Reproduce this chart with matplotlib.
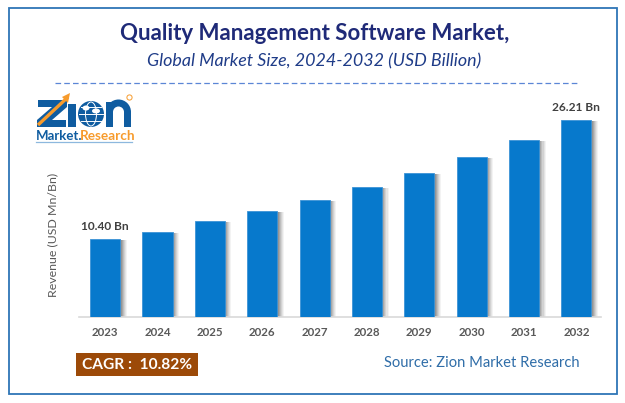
import matplotlib
matplotlib.use("Agg")
import matplotlib.pyplot as plt
from matplotlib.patches import Rectangle, Circle, Ellipse, Polygon, Wedge

years = ["2023","2024","2025","2026","2027","2028","2029","2030","2031","2032"]
values = [10.40,11.35,12.75,14.1,15.6,17.3,19.15,21.3,23.5,26.21]
first_label = "10.40 Bn"
last_label = "26.21 Bn"

W,H = 625,403
plt.rcParams['font.family'] = ['Lato','DejaVu Sans']
fig = plt.figure(figsize=(W/100,H/100),dpi=100,facecolor='white')

# page overlay in pixel coordinates
pg = fig.add_axes([0,0,1,1],zorder=5)
pg.set_xlim(0,W); pg.set_ylim(H,0); pg.axis('off'); pg.patch.set_alpha(0)

# chart axes
x0,x1,ytop,ybase = 79,601,100,317
ax = fig.add_axes([x0/W,1-ybase/H,(x1-x0)/W,(ybase-ytop)/H],zorder=2)
ax.set_xlim(-0.5,9.47)
ax.set_ylim(0,(ybase-ytop)/7.52)
xs = list(range(len(values)))
bw = 0.575
# soft shadow: stacked translucent bars
for off,a in [(0.125,0.08),(0.105,0.10),(0.085,0.14),(0.065,0.18),(0.045,0.24),(0.025,0.28)]:
    ax.bar([i+off for i in xs],[v-0.15 for v in values],width=bw,color='#666666',alpha=a,linewidth=0,zorder=1)
ax.bar(xs,values,width=bw,color='#0779CC',edgecolor='#3C93D6',linewidth=0.6,zorder=3)
for s in ['top','right','left']:
    ax.spines[s].set_visible(False)
ax.spines['bottom'].set_color('#D9D9D9')
ax.spines['bottom'].set_linewidth(1.2)
ax.set_yticks([])
ax.set_xticks(xs)
ax.set_xticklabels(years,fontsize=8.3,fontweight='bold',color='#595959')
ax.tick_params(axis='x',length=0,pad=7.5)
ax.text(0,values[0]+0.95,first_label,ha='center',va='bottom',fontsize=8.6,fontweight='bold',color='#404040')
ax.text(9,values[9]+0.95,last_label,ha='center',va='bottom',fontsize=8.6,fontweight='bold',color='#404040')

# frame
pg.add_patch(Rectangle((8.5,7.5),608.5,386,fill=False,edgecolor='#2E75B6',linewidth=1.3))

# titles
pg.text(315,34,"Quality Management Software Market,",ha='center',va='center',fontsize=16,fontweight='bold',color='#1F2A78')
pg.text(314,61,"Global Market Size, 2024-2032 (USD Billion)",ha='center',va='center',fontsize=12.9,style='italic',color='#1F3C88')
pg.plot([55,578],[83,83],color='#5B86D6',linewidth=0.9,linestyle=(0,(4.5,2.5)))

# y label
pg.text(53,235,"Revenue (USD Mn/Bn)",rotation=90,ha='center',va='center',fontsize=8.9,color='#595959')

# CAGR box
pg.add_patch(Rectangle((76,353),122,23,facecolor='#9C4A08',edgecolor='none'))
pg.text(137,365,"CAGR :  10.82%",ha='center',va='center',fontsize=11.2,fontweight='bold',color='white')
pg.text(482,363,"Source: Zion Market Research",ha='center',va='center',fontsize=10.6,color='#2F6DA8')

# logo
blue = '#0F5CA0'; orange = '#F79B2C'
pg.add_patch(Polygon([(38,100),(67,100),(67,107),(52,120),(66,120),(66,127),(37,127),(37,120),(52,107),(38,107)],closed=True,facecolor=blue,edgecolor='none'))
pg.plot([38,68],[125,97],color=orange,linewidth=2.4,solid_capstyle='butt')
pg.add_patch(Polygon([(70,93),(62,97),(68,103)],closed=True,facecolor=orange,edgecolor='none'))
pg.add_patch(Rectangle((68,104),8,23,facecolor=blue,edgecolor='none'))
pg.add_patch(Circle((91,114),13,facecolor=blue,edgecolor='none'))
pg.add_patch(Ellipse((91,114),11,24,facecolor='none',edgecolor='white',linewidth=0.7))
pg.plot([79,103],[114,114],color='white',linewidth=0.7)
pg.plot([81,101],[107,107],color='white',linewidth=0.7)
pg.plot([81,101],[121,121],color='white',linewidth=0.7)
pg.add_patch(Ellipse((86,108),7,5,facecolor='white',edgecolor='none'))
pg.add_patch(Ellipse((96,111),8,5,facecolor='white',edgecolor='none'))
# letter n built from shapes (y axis is inverted, so the arch uses angles 180-360)
pg.add_patch(Rectangle((106,102),7,25,facecolor=blue,edgecolor='none'))
pg.add_patch(Rectangle((124,112),7,15,facecolor=blue,edgecolor='none'))
pg.add_patch(Wedge((118.5,112),12.5,180,360,width=7,facecolor=blue,edgecolor='none'))
pg.add_patch(Circle((129.5,97.5),2.6,facecolor='none',edgecolor=orange,linewidth=0.7))
pg.text(36,140,"Market.",ha='left',va='baseline',fontsize=9.5,fontweight='bold',color=blue)
pg.text(80,140,"Research",ha='left',va='baseline',fontsize=9.8,fontweight='bold',color=orange)
pg.plot([36,132],[141.5,141.5],color='#8DB8DE',linewidth=0.9)

fig.savefig('out.png',dpi=100,facecolor='white')
